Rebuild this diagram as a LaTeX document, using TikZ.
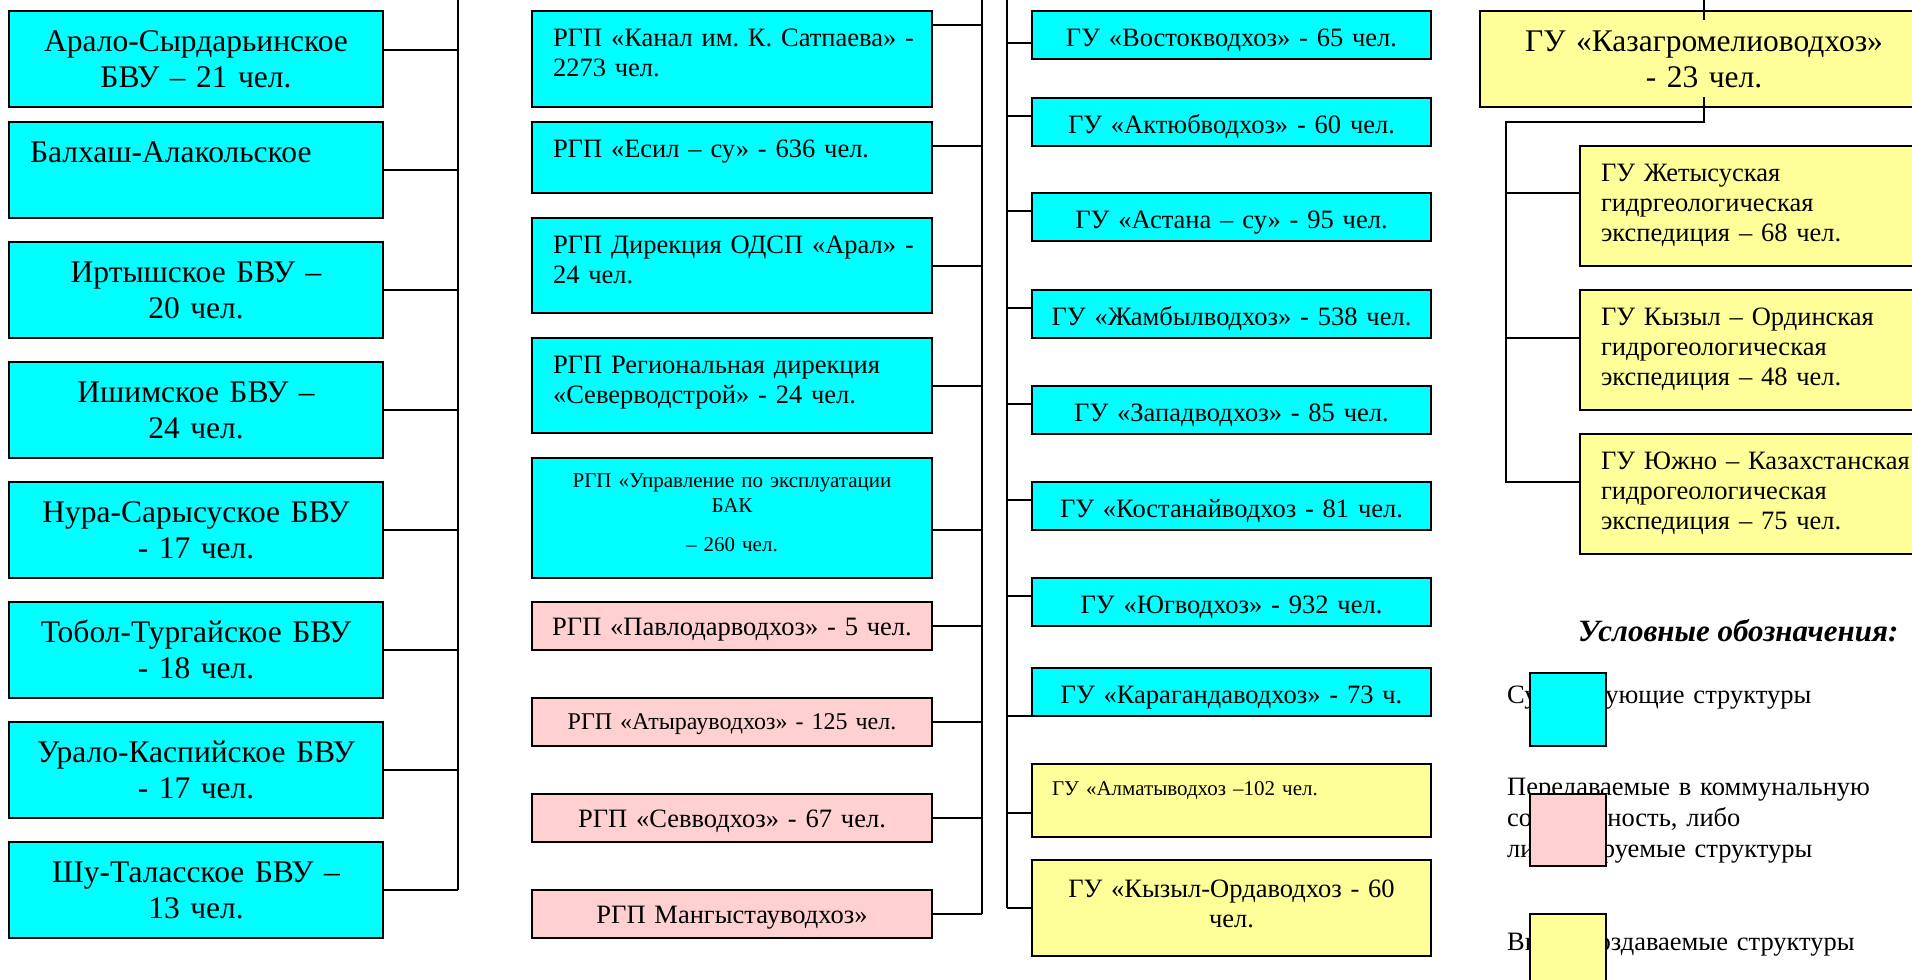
\documentclass[tikz,border=0pt]{standalone}
\usepackage{fontspec}
\setmainfont{Liberation Serif}
\usetikzlibrary{calc}
\frenchspacing
\definecolor{aqua}{RGB}{0,255,255}
\definecolor{rose}{RGB}{255,208,208}
\definecolor{lemon}{RGB}{255,255,153}
\tikzset{
  unit/.style={draw, line width=2pt, anchor=north west, inner ysep=0pt, outer sep=0pt},
  keep/.style={unit, fill=aqua},
  hand/.style={unit, fill=rose},
  fresh/.style={unit, fill=lemon},
  bigtxt/.style={font=\fontsize{31.5}{36}\selectfont},
  midtxt/.style={font=\fontsize{26.5}{30}\selectfont},
  smalltxt/.style={font=\fontsize{21}{25.5}\selectfont},
  basin/.style={keep, bigtxt, align=center, inner xsep=0pt, text width=374pt, text height=40pt, text depth=56pt},
  rgp/.style={keep, midtxt, align=left, inner xsep=21pt, text width=358pt, text height=35pt},
  waste/.style={hand, midtxt, align=center, inner xsep=0pt, text width=400pt, text height=33pt, text depth=15pt},
  gu/.style={keep, midtxt, align=center, inner xsep=0pt, text width=399pt, text height=35pt, text depth=13pt},
  expd/.style={fresh, midtxt, align=left, inner xsep=21pt, text width=318pt, text height=35pt, text depth=85pt},
  legtxt/.style={anchor=base west, inner sep=0pt, align=left, text width=400pt, font=\fontsize{26.5}{31}\selectfont},
  link/.style={line width=2pt}
}
\begin{document}
\begin{tikzpicture}[x=1pt,y=-1pt]
  \useasboundingbox (0,0) rectangle (1912,980);
  \clip (0,0) rectangle (1912,980);

  \node[basin] (bvu1) at (9,11) {Арало-Сырдарьинское\\БВУ – 21 чел.};
  \node[basin, align=left, inner xsep=21pt, text width=332pt] (bvu2) at (9,122) {Балхаш-Алакольское};
  \node[basin] (bvu3) at (9,242) {Иртышское БВУ –\\20 чел.};
  \node[basin] (bvu4) at (9,362) {Ишимское БВУ –\\24 чел.};
  \node[basin] (bvu5) at (9,482) {Нура-Сарысуское БВУ\\- 17 чел.};
  \node[basin] (bvu6) at (9,602) {Тобол-Тургайское БВУ\\- 18 чел.};
  \node[basin] (bvu7) at (9,722) {Урало-Каспийское БВУ\\- 17 чел.};
  \node[basin] (bvu8) at (9,842) {Шу-Таласское БВУ –\\13 чел.};

  \node[rgp, text depth=61pt] (rgp1) at (532,11) {\mbox{РГП «Канал им. К. Сатпаева» -}\\2273 чел.};
  \node[rgp, text depth=36pt] (rgp2) at (532,122) {РГП «Есил – су» - 636 чел.};
  \node[rgp, text depth=60pt] (rgp3) at (532,218) {\mbox{РГП Дирекция ОДСП «Арал» -}\\24 чел.};
  \node[rgp, text depth=60pt] (rgp4) at (532,338) {РГП Региональная дирекция\\«Северводстрой» - 24 чел.};
  \node[keep, smalltxt, align=center, inner xsep=0pt, text width=400pt, text height=29pt, text depth=91pt] (rgp5) at (532,458) {РГП «Управление по эксплуатации\\БАК\\[13pt]– 260 чел.};
  \node[waste] (rgp6) at (532,602) {РГП «Павлодарводхоз» - 5 чел.};
  \node[waste, font=\fontsize{24}{28}\selectfont, text height=31pt, text depth=17pt] (rgp7) at (532,698) {РГП «Атырауводхоз» - 125 чел.};
  \node[waste] (rgp8) at (532,794) {РГП «Севводхоз» - 67 чел.};
  \node[waste] (rgp9) at (532,890) {РГП Мангыстауводхоз»};

  \node[gu] (gu1) at (1032,11) {ГУ «Востокводхоз» - 65 чел.};
  \node[gu] (gu2) at (1032,98) {ГУ «Актюбводхоз» - 60 чел.};
  \node[gu] (gu3) at (1032,193) {ГУ «Астана – су» - 95 чел.};
  \node[gu] (gu4) at (1032,290) {ГУ «Жамбылводхоз» - 538 чел.};
  \node[gu] (gu5) at (1032,386) {ГУ «Западводхоз» - 85 чел.};
  \node[gu] (gu6) at (1032,482) {ГУ «Костанайводхоз - 81 чел.};
  \node[gu] (gu7) at (1032,578) {ГУ «Югводхоз» - 932 чел.};
  \node[gu] (gu8) at (1032,668) {ГУ «Карагандаводхоз» - 73 ч.};
  \node[gu, fresh, smalltxt, align=left, inner xsep=20pt, text width=359pt, text height=31pt, text depth=42pt] (gu9) at (1032,764) {ГУ «Алматыводхоз –102 чел.};
  \node[gu, fresh, text height=37pt, text depth=59pt] (gu10) at (1032,860) {ГУ «Кызыл-Ордаводхоз - 60\\чел.};

  \node[fresh, bigtxt, align=center, inner xsep=0pt, text width=448pt, text height=40pt, text depth=56pt] (kaz) at (1480,11) {ГУ «Казагромелиоводхоз»\\- 23 чел.};
  \node[expd] (exp1) at (1580,146) {ГУ Жетысуская\\гидргеологическая\\экспедиция – 68 чел.};
  \node[expd] (exp2) at (1580,290) {ГУ Кызыл – Ординская\\гидрогеологическая\\экспедиция – 48 чел.};
  \node[expd] (exp3) at (1580,434) {ГУ Южно – Казахстанская\\гидрогеологическая\\экспедиция – 75 чел.};

  \coordinate (bus1) at (458,0);
  \coordinate (bus2) at (982,0);
  \coordinate (bus3) at (1007,0);
  \coordinate (top4) at (1704,0);
  \coordinate (hub4) at (1704,122);
  \coordinate (bus4) at (1506,122);

  \draw[link] (bus1) -- (bus1 |- bvu8.east);
  \coordinate (t) at ($(bvu1.east)+(0,-9)$);
  \draw[link] (t) -- (t -| bus1);
  \foreach \n in {2,...,8}
    \draw[link] (bvu\n.east) -- (bvu\n.east -| bus1);

  \draw[link] (bus2) -- (bus2 |- rgp9.east);
  \coordinate (t) at ($(rgp1.north east)+(0,14)$);
  \draw[link] (t) -- (t -| bus2);
  \coordinate (t) at ($(rgp2.north east)+(0,24)$);
  \draw[link] (t) -- (t -| bus2);
  \coordinate (t) at ($(rgp5.east)+(0,12)$);
  \draw[link] (t) -- (t -| bus2);
  \foreach \n in {3,4,6,7,8,9}
    \draw[link] (rgp\n.east) -- (rgp\n.east -| bus2);

  \draw[link] (bus3) -- (bus3 |- gu10.west);
  \coordinate (t) at ($(gu1.west)+(0,8)$);
  \draw[link] (t) -- (t -| bus3);
  \foreach \n in {2,...,7} {
    \coordinate (t) at ($(gu\n.west)+(0,-6)$);
    \draw[link] (t) -- (t -| bus3);
  }
  \draw[link] (gu8.south west) -- (gu8.south west -| bus3);
  \coordinate (t) at ($(gu9.west)+(0,12)$);
  \draw[link] (t) -- (t -| bus3);
  \draw[link] (gu10.west) -- (gu10.west -| bus3);

  \draw[link] (top4) -- ($(kaz.north)+(0,9)$);
  \coordinate (t) at ($(exp3.west)+(0,-12)$);
  \draw[link] ($(kaz.south)+(0,-10)$) -- (hub4) -- (bus4) -- (t -| bus4) -- (t);
  \foreach \n/\d in {1/-13,2/-12} {
    \coordinate (t) at ($(exp\n.west)+(0,\d)$);
    \draw[link] (t) -- (t -| bus4);
  }

  \node[anchor=base west, inner sep=0pt, font=\fontsize{31}{36}\selectfont\bfseries\itshape] (legend) at (1578,641) {Условные обозначения:};
  \node[legtxt] (keeptxt) at (1507,703) {Существующие структуры};
  \node[legtxt] (handtxt) at (1507,795) {Передаваемые в коммунальную\\собственность, либо\\ликвидируемые структуры};
  \node[legtxt] (freshtxt) at (1507,950) {Вновь создаваемые структуры};
  \node[keep, minimum width=76pt, minimum height=73pt, inner sep=0pt] (keepkey) at (1530,673) {};
  \node[hand, minimum width=76pt, minimum height=72pt, inner sep=0pt] (handkey) at (1530,794) {};
  \node[fresh, minimum width=76pt, minimum height=73pt, inner sep=0pt] (freshkey) at (1530,914) {};
\end{tikzpicture}
\end{document}
